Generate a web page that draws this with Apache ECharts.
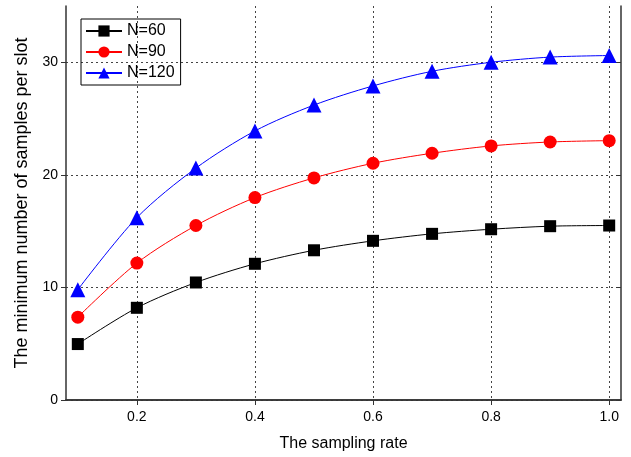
<!DOCTYPE html>
<html><head><meta charset="utf-8">
<script src="https://cdn.jsdelivr.net/npm/echarts@6/dist/echarts.min.js"></script>
<style>html,body{margin:0;padding:0;background:#fff}#c{width:631px;height:457px}</style>
</head><body><div id="c"></div>
<script>
const rates = [0.1,0.2,0.3,0.4,0.5,0.6,0.7,0.8,0.9,1.0];
const n60 = [4.97,8.19,10.44,12.1,13.3,14.14,14.76,15.17,15.44,15.5];
const n90 = [7.36,12.16,15.5,17.98,19.73,21.03,21.92,22.57,22.92,23.04];
const n120 = [9.8,16.2,20.6,23.9,26.2,27.9,29.2,30.0,30.46,30.6];
const xTicks = [0.2,0.4,0.6,0.8,1.0];
const yTicks = [0,10,20,30];
const seriesNames = ['N=60','N=90','N=120'];

const font = 'Liberation Sans, Arial, sans-serif';
const axisColor = '#333';
const gridLine = {show:true, lineStyle:{color:'#444', type:[2,3], width:1}};
function pairs(v){ return rates.map((r,i)=>[r,v[i]]); }
const chart = echarts.init(document.getElementById('c'));
chart.setOption({
  animation:false,
  grid:{left:66, top:6, right:10, bottom:57, containLabel:false},
  legend:{
    orient:'vertical', left:81, top:19, data:seriesNames,
    borderColor:'#000', borderWidth:1, padding:[4,6,4,4], itemGap:5,
    itemWidth:36, itemHeight:14,
    textStyle:{fontFamily:font, fontSize:16, color:'#000'}
  },
  xAxis:[{
    type:'value', min:0.08, max:1.02, position:'bottom',
    name:'The sampling rate', nameLocation:'middle', nameGap:36,
    nameTextStyle:{fontFamily:font, fontSize:16, color:'#000'},
    axisLine:{show:true, lineStyle:{color:axisColor, width:1.5}},
    axisTick:{show:true, inside:false, length:5, customValues:xTicks, lineStyle:{color:axisColor}},
    axisLabel:{customValues:xTicks, fontFamily:font, fontSize:14, color:'#000', margin:10,
      formatter:v=>v.toFixed(1)},
    splitLine:gridLine
  },{
    type:'value', min:0.08, max:1.02, position:'top',
    axisLine:{show:true, lineStyle:{color:axisColor, width:1.5}},
    axisTick:{show:true, inside:true, length:5, customValues:xTicks, lineStyle:{color:axisColor}},
    axisLabel:{show:false}, splitLine:{show:false}
  }],
  yAxis:[{
    type:'value', min:0, max:35, interval:10, position:'left',
    name:'The minimum number of samples per slot', nameLocation:'middle', nameGap:33,
    nameTextStyle:{fontFamily:font, fontSize:18, color:'#000'},
    axisLine:{show:true, lineStyle:{color:axisColor, width:1.5}},
    axisTick:{show:true, inside:false, length:5, customValues:yTicks, lineStyle:{color:axisColor}},
    axisLabel:{customValues:yTicks, fontFamily:font, fontSize:14, color:'#000', margin:8},
    splitLine:gridLine
  },{
    type:'value', min:0, max:35, interval:10, position:'right',
    axisLine:{show:true, lineStyle:{color:axisColor, width:1.5}},
    axisTick:{show:true, inside:true, length:5, customValues:yTicks, lineStyle:{color:axisColor}},
    axisLabel:{show:false}, splitLine:{show:false}
  }],
  series:[
    {name:'N=60', type:'line', smooth:0.3, data:pairs(n60), symbol:'rect', symbolSize:12,
      itemStyle:{color:'#000'}, lineStyle:{color:'#000', width:1}},
    {name:'N=90', type:'line', smooth:0.3, data:pairs(n90), symbol:'circle', symbolSize:13,
      itemStyle:{color:'#ff0000'}, lineStyle:{color:'#ff0000', width:1}},
    {name:'N=120', type:'line', smooth:0.3, data:pairs(n120), symbol:'triangle', symbolSize:15,
      itemStyle:{color:'#0000ff'}, lineStyle:{color:'#0000ff', width:1}}
  ]
});
</script></body></html>
